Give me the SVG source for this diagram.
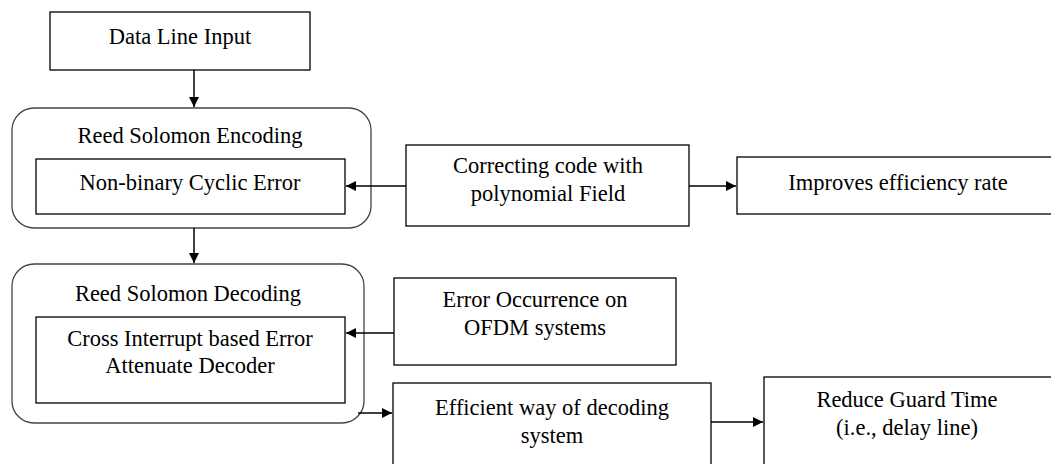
<svg xmlns="http://www.w3.org/2000/svg" width="1051" height="464" viewBox="0 0 1051 464">
<defs>
<marker id="ah" markerWidth="10" markerHeight="10" refX="10" refY="5" orient="auto" markerUnits="userSpaceOnUse">
<path d="M0,0 L10,5 L0,10 Z" fill="#000"/>
</marker>
<style>
.box{fill:#fff;stroke:#000;stroke-width:1.3}
.rbox{fill:#fff;stroke:#444;stroke-width:1.3}
.t{font-family:"Liberation Serif","Times New Roman",serif;font-size:22.5px;fill:#000;text-anchor:middle}
.c{stroke:#000;stroke-width:1.5;fill:none;marker-end:url(#ah)}
</style>
</defs>
<rect width="1051" height="464" fill="#fff"/>
<g id="data-line-input">
<rect class="box" x="50" y="12" width="260" height="58"/>
<text class="t" x="180" y="44">Data Line Input</text>
</g>
<g id="rs-encoding">
<rect class="rbox" x="12" y="108" width="359" height="120" rx="22"/>
<text class="t" x="190" y="143">Reed Solomon Encoding</text>
</g>
<g id="non-binary">
<rect class="box" x="36" y="159" width="309" height="55"/>
<text class="t" x="190" y="190">Non-binary Cyclic Error</text>
</g>
<g id="correcting-code">
<rect class="box" x="406" y="145" width="283" height="81"/>
<text class="t" x="548" y="173">Correcting code with</text>
<text class="t" x="548" y="201">polynomial Field</text>
</g>
<g id="improves">
<rect class="box" x="737" y="157" width="320" height="57"/>
<text class="t" x="898" y="190">Improves efficiency rate</text>
</g>
<g id="rs-decoding">
<rect class="rbox" x="12" y="264" width="352" height="159" rx="22"/>
<text class="t" x="188" y="301">Reed Solomon Decoding</text>
</g>
<g id="cross-interrupt">
<rect class="box" x="36" y="317" width="309" height="86"/>
<text class="t" x="190" y="346">Cross Interrupt based Error</text>
<text class="t" x="190" y="373">Attenuate Decoder</text>
</g>
<g id="error-occurrence">
<rect class="box" x="394" y="278" width="282" height="87"/>
<text class="t" x="535" y="307">Error Occurrence on</text>
<text class="t" x="535" y="335">OFDM systems</text>
</g>
<g id="efficient-way">
<rect class="box" x="393" y="383" width="318" height="90"/>
<text class="t" x="552" y="415">Efficient way of decoding</text>
<text class="t" x="552" y="443">system</text>
</g>
<g id="reduce-guard">
<rect class="box" x="764" y="377" width="295" height="95"/>
<text class="t" x="907" y="407">Reduce Guard Time</text>
<text class="t" x="907" y="435">(i.e., delay line)</text>
</g>
<g id="connectors">
<line class="c" x1="194" y1="70" x2="194" y2="107"/>
<line class="c" x1="194" y1="228" x2="194" y2="263"/>
<line class="c" x1="406" y1="186" x2="346" y2="186"/>
<line class="c" x1="689" y1="186" x2="736" y2="186"/>
<line class="c" x1="394" y1="333" x2="346" y2="333"/>
<line class="c" x1="358" y1="413" x2="392" y2="413"/>
<line class="c" x1="711" y1="422" x2="763" y2="422"/>
</g>
</svg>
